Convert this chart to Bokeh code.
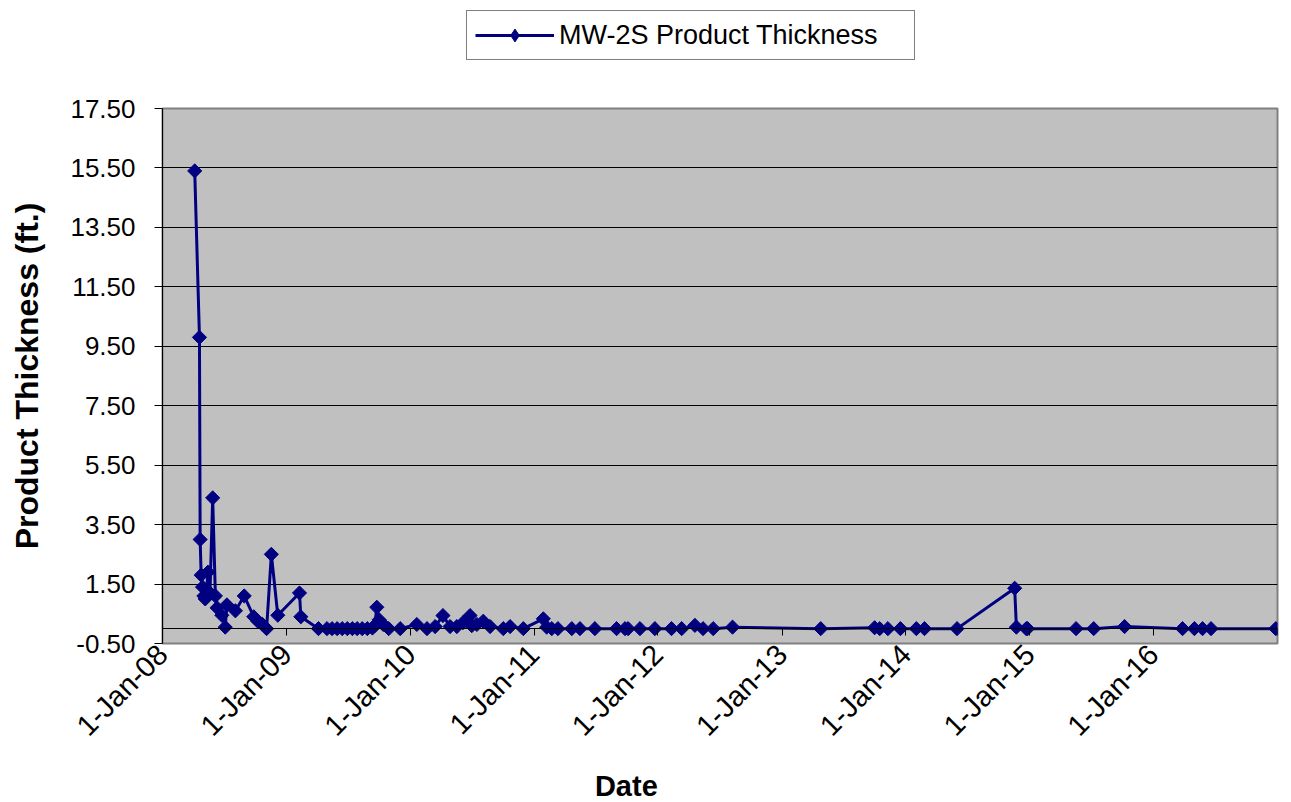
import numpy as np
import pandas as pd
from bokeh.plotting import figure
from bokeh.layouts import column
from bokeh.models import (Range1d, FixedTicker, NumeralTickFormatter, DatetimeAxis,
                          Legend, LegendItem, Label, ColumnDataSource)
from bokeh.embed import file_html
from bokeh.resources import INLINE

# MW-2S product thickness measurements (ft.)
dates = [
    "2008-04-05", "2008-04-19", "2008-04-21", "2008-04-24", "2008-04-28", "2008-05-02",
    "2008-05-06", "2008-05-10", "2008-05-14", "2008-05-20", "2008-05-28", "2008-06-05",
    "2008-06-10", "2008-06-24", "2008-07-04", "2008-07-09", "2008-08-03", "2008-08-29",
    "2008-09-26", "2008-10-08", "2008-10-21", "2008-11-03", "2008-11-17", "2008-12-06",
    "2009-02-08", "2009-02-12", "2009-04-05", "2009-04-30", "2009-05-15", "2009-05-30",
    "2009-06-14", "2009-06-29", "2009-07-14", "2009-07-28", "2009-08-12", "2009-08-27",
    "2009-09-11", "2009-09-18", "2009-09-24", "2009-10-01", "2009-10-13", "2009-10-29",
    "2009-12-02", "2010-01-20", "2010-02-19", "2010-03-15", "2010-04-07", "2010-04-28",
    "2010-05-18", "2010-06-05", "2010-06-26", "2010-07-01", "2010-07-16", "2010-08-04",
    "2010-08-24", "2010-10-02", "2010-10-22", "2010-11-30", "2011-01-28", "2011-02-07",
    "2011-02-22", "2011-03-12", "2011-04-22", "2011-05-16", "2011-06-29", "2011-09-01",
    "2011-09-26", "2011-10-05", "2011-11-09", "2011-12-23", "2012-02-10", "2012-03-11",
    "2012-04-19", "2012-05-13", "2012-06-12", "2012-08-08", "2013-04-25", "2013-10-01",
    "2013-10-16", "2013-11-09", "2013-12-16", "2014-02-01", "2014-02-25", "2014-06-01",
    "2014-11-18", "2014-11-23", "2014-12-22", "2014-12-26", "2015-05-18", "2015-07-09",
    "2015-10-08", "2016-03-27", "2016-05-01", "2016-05-25", "2016-06-19", "2016-12-27",
]
thickness = [
    15.40, 9.80, 3.00, 1.80, 1.40, 1.10,
    1.00, 1.30, 1.90, 1.20, 4.40, 1.10,
    0.70, 0.45, 0.05, 0.80, 0.60, 1.10,
    0.40, 0.25, 0.15, 0.00, 2.50, 0.45,
    1.20, 0.40, 0.00, 0.00, 0.00, 0.00,
    0.00, 0.00, 0.00, 0.00, 0.00, 0.00,
    0.02, 0.10, 0.72, 0.30, 0.14, 0.00,
    0.00, 0.14, 0.00, 0.07, 0.44, 0.07,
    0.07, 0.20, 0.44, 0.10, 0.14, 0.25,
    0.07, 0.00, 0.07, 0.00, 0.33, 0.05,
    0.00, 0.00, 0.00, 0.00, 0.00, 0.00,
    0.00, 0.00, 0.00, 0.00, 0.00, 0.00,
    0.11, 0.00, 0.00, 0.05, 0.00, 0.03,
    0.00, 0.00, 0.00, 0.00, 0.00, 0.00,
    1.36, 0.05, 0.00, 0.00, 0.00, 0.00,
    0.07, 0.00, 0.00, 0.00, 0.00, 0.00,
]

y_ticks = [-0.5, 1.5, 3.5, 5.5, 7.5, 9.5, 11.5, 13.5, 15.5, 17.5]
x_tick_dates = ["2008-01-01", "2009-01-01", "2010-01-01", "2011-01-01", "2012-01-01",
                "2013-01-01", "2014-01-01", "2015-01-01", "2016-01-01"]
x_tick_labels = ["1-Jan-08", "1-Jan-09", "1-Jan-10", "1-Jan-11", "1-Jan-12",
                 "1-Jan-13", "1-Jan-14", "1-Jan-15", "1-Jan-16"]
x_start, x_end = "2008-01-01", "2017-01-01"
series_name = "MW-2S Product Thickness"
x_title = "Date"
y_title = "Product Thickness (ft.)"

NAVY = "#000080"
FONT = "Liberation Sans"
W = 1291
LEGEND_H = 70
XTITLE_H = 42
FRAME_LEFT = 162

src = ColumnDataSource(dict(date=pd.to_datetime(dates), thickness=thickness))

p = figure(width=W, height=802 - LEGEND_H - XTITLE_H, x_axis_type="datetime",
           output_backend="svg", toolbar_location=None,
           x_range=Range1d(pd.Timestamp(x_start), pd.Timestamp(x_end)),
           y_range=Range1d(y_ticks[0], y_ticks[-1]),
           min_border_left=FRAME_LEFT, min_border_right=14,
           min_border_top=108 - LEGEND_H, min_border_bottom=159 - XTITLE_H,
           background_fill_color="#C0C0C0", border_fill_color="white",
           outline_line_color="#808080", outline_line_width=2)

tick_ms = [int(pd.Timestamp(d).value // 10**6) for d in x_tick_dates]
end_ms = int(pd.Timestamp(x_end).value // 10**6)

# date labels along the bottom of the plot area
xax = p.xaxis[0]
xax.ticker = FixedTicker(ticks=tick_ms)
xax.major_label_overrides = {t: lab for t, lab in zip(tick_ms, x_tick_labels)}
xax.major_label_orientation = np.pi / 4
xax.major_label_text_font = FONT
xax.major_label_text_font_size = "29px"
xax.major_label_text_color = "black"
xax.axis_line_color = None
xax.major_tick_line_color = None
xax.minor_tick_line_color = None
xax.major_tick_out = 0
xax.major_label_standoff = 6

# horizontal axis line crossing at zero, with yearly tick marks
zero_axis = DatetimeAxis(fixed_location=0, ticker=FixedTicker(ticks=tick_ms + [end_ms]),
                         major_label_text_font_size="0px", major_label_text_color=None,
                         axis_line_color="black", axis_line_width=1,
                         major_tick_line_color="black", major_tick_out=7, major_tick_in=0,
                         minor_tick_line_color=None)
p.add_layout(zero_axis, "below")

yax = p.yaxis[0]
yax.ticker = FixedTicker(ticks=y_ticks)
yax.formatter = NumeralTickFormatter(format="0.00")
yax.major_label_text_font = FONT
yax.major_label_text_font_size = "26px"
yax.major_label_text_color = "black"
yax.axis_line_color = "black"
yax.major_tick_line_color = "black"
yax.major_tick_out = 8
yax.major_tick_in = 0
yax.minor_tick_line_color = None
yax.major_label_standoff = 19
yax.axis_label = y_title
yax.axis_label_text_font = FONT
yax.axis_label_text_font_size = "32px"
yax.axis_label_text_font_style = "bold"
yax.axis_label_text_color = "black"
yax.axis_label_standoff = 22

p.ygrid.ticker = FixedTicker(ticks=y_ticks)
p.ygrid.grid_line_color = "black"
p.ygrid.grid_line_width = 1
p.xgrid.visible = False

p.line("date", "thickness", source=src, line_color=NAVY, line_width=3)
p.scatter("date", "thickness", source=src, marker="square", angle=np.pi / 4,
          size=10, fill_color=NAVY, line_color=NAVY)


def strip(height):
    """Blank band whose frame lines up with the chart frame."""
    s = figure(width=W, height=height, output_backend="svg", toolbar_location=None,
               x_range=Range1d(0, 1), y_range=Range1d(0, 1), min_border=0,
               background_fill_color="white", border_fill_color="white",
               outline_line_color=None)
    s.axis.visible = False
    s.grid.visible = False
    return s


# legend band above the chart
lg = strip(LEGEND_H)
key_line = lg.line("date", "thickness", source=src, line_color=NAVY, line_width=3)
key_pts = lg.scatter("date", "thickness", source=src, marker="diamond",
                     size=14, fill_color=NAVY, line_color=NAVY)
legend = Legend(items=[LegendItem(label=series_name, renderers=[key_line, key_pts])],
                location=(466 - FRAME_LEFT, 10),
                border_line_color="black", border_line_width=1,
                background_fill_color="white", background_fill_alpha=1,
                label_text_font=FONT, label_text_font_size="27px", label_text_color="black",
                glyph_width=79, glyph_height=32, label_standoff=5,
                padding=8, margin=0, label_width=347)
lg.add_layout(legend, "center")

# horizontal axis title band below the chart
xt = strip(XTITLE_H)
xt.add_layout(Label(x=0.416, y=0.40, text=x_title, text_align="center",
                    text_baseline="middle", text_font=FONT, text_font_size="29px",
                    text_font_style="bold", text_color="black"))

open("out.html", "w").write(file_html(column(lg, p, xt), INLINE))
